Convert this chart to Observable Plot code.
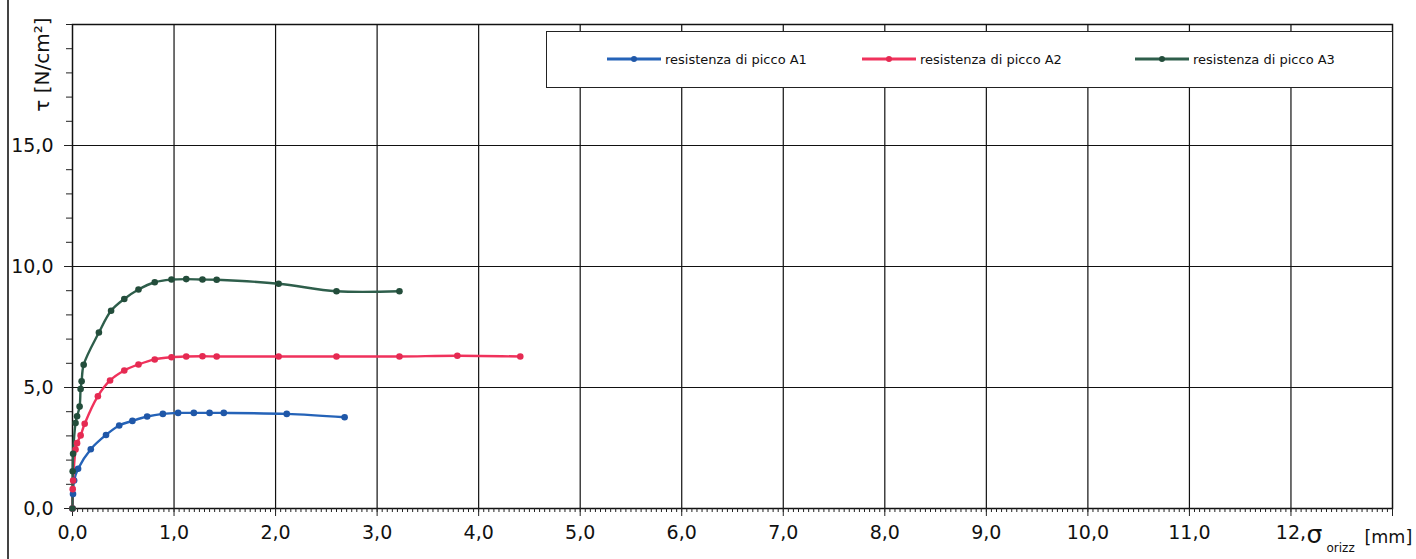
<!DOCTYPE html>
<html><head><meta charset="utf-8">
<script src="https://cdn.jsdelivr.net/npm/d3@7"></script>
<script src="https://cdn.jsdelivr.net/npm/@observablehq/plot@0.6"></script>
<style>
body{margin:0;background:#fff;}
#wrap{position:relative;width:1416px;height:559px;overflow:hidden;font-family:"DejaVu Sans",sans-serif;background:#fff;}
#edge{position:absolute;left:7px;top:0;width:2px;height:559px;background:#444;}
#legend{position:absolute;left:546px;top:31px;width:847px;height:57px;border:1.5px solid #222;box-sizing:border-box;background:#fff;}
.item{position:absolute;top:0;height:54px;display:flex;align-items:center;font-size:13px;color:#111;white-space:nowrap;}
.item svg{margin-right:4px;}
</style>
</head><body>
<div id="wrap"><div id="edge"></div><div id="chart"></div><div id="legend"></div></div>
<script>
const seriesNames = ["resistenza di picco A1","resistenza di picco A2","resistenza di picco A3"];
const seriesColors = ["#2563b8","#f0325c","#2e5e4b"];
const dotColors = ["#1f57a8","#e52a52","#234d3b"];

const a1X = [0,0.005,0.016,0.055,0.18,0.33,0.46,0.59,0.735,0.89,1.04,1.195,1.35,1.49,2.11,2.68];
const a1Y = [0,0.6,1.16,1.64,2.45,3.04,3.43,3.62,3.80,3.91,3.95,3.95,3.95,3.95,3.91,3.77];

const a2X = [0,0.002,0.006,0.03,0.045,0.08,0.12,0.25,0.37,0.51,0.65,0.81,0.975,1.12,1.28,1.42,2.03,2.6,3.22,3.79,4.41];
const a2Y = [0,0.8,1.16,2.44,2.70,3.02,3.50,4.64,5.29,5.70,5.95,6.16,6.25,6.28,6.29,6.28,6.28,6.28,6.28,6.31,6.28];

const a3X = [0,0.002,0.006,0.03,0.045,0.07,0.08,0.09,0.11,0.26,0.38,0.51,0.65,0.81,0.975,1.12,1.28,1.42,2.03,2.6,3.22];
const a3Y = [0,1.54,2.26,3.53,3.81,4.21,4.94,5.26,5.94,7.27,8.17,8.66,9.05,9.35,9.46,9.48,9.46,9.45,9.29,8.98,8.98];

const xMajorTicks = [0,1,2,3,4,5,6,7,8,9,10,11,12,13];
const xTickLabels = ["0,0","1,0","2,0","3,0","4,0","5,0","6,0","7,0","8,0","9,0","10,0","11,0","12,",""];
const yMajorTicks = [0,5,10,15];
const yTickLabels = ["0,0","5,0","10,0","15,0"];
const yMinorTicks = [0,1,2,3,4,5,6,7,8,9,10,11,12,13,14,15,16,17,18,19,20];
const xMinorTicks = d3.range(0, 261).map(i => i / 20);

const yTitle = "τ [N/cm²]";
const xTitleMain = "σ";
const xTitleSub = "orizz";
const xTitleUnit = "[mm]";

const rows = [];
[[a1X,a1Y],[a2X,a2Y],[a3X,a3Y]].forEach(([xs,ys],k) => {
  xs.forEach((x,i) => rows.push({series: seriesNames[k], x, y: ys[i]}));
});

const chart = Plot.plot({
  width: 1416, height: 559,
  marginLeft: 72, marginRight: 24, marginTop: 24, marginBottom: 51,
  x: {domain: [0, 13]},
  y: {domain: [0, 20]},
  color: {domain: seriesNames, range: seriesColors},
  style: {fontFamily: "DejaVu Sans, sans-serif", fontSize: "19px", color: "#111", background: "transparent"},
  marks: [
    Plot.gridX(xMajorTicks.slice(1, -1), {stroke: "#111", strokeOpacity: 1, strokeWidth: 1.2}),
    Plot.gridY(yMajorTicks.slice(1), {stroke: "#111", strokeOpacity: 1, strokeWidth: 1.2}),
    Plot.frame({stroke: "#111", strokeWidth: 1.5}),
    Plot.axisX({ticks: xMinorTicks, tickSize: 4, tickFormat: () => "", label: null, stroke: "#222"}),
    Plot.axisX({ticks: xMajorTicks, tickSize: 8, tickPadding: 9, tickFormat: d => xTickLabels[Math.round(d)], label: null, stroke: "#222"}),
    Plot.axisY({ticks: yMinorTicks, tickSize: 6, tickFormat: () => "", label: null, stroke: "#222"}),
    Plot.axisY({ticks: yMajorTicks, tickSize: 8, tickPadding: 11, tickFormat: d => yTickLabels[yMajorTicks.indexOf(d)], label: null, stroke: "#222"}),
    Plot.line(rows, {x: "x", y: "y", z: "series", stroke: "series", strokeWidth: 2.4, curve: "catmull-rom"}),
    Plot.dot(rows, {x: "x", y: "y", fill: d => dotColors[seriesNames.indexOf(d.series)], r: 3.3}),
    Plot.text([yTitle], {frameAnchor: "top-left", dx: -38, dy: -7, rotate: -90, textAnchor: "end", fontSize: 20, fill: "#111"}),
    Plot.text([xTitleMain], {frameAnchor: "bottom-right", dx: -86, dy: 34, textAnchor: "start", fontSize: 25, fill: "#111"}),
    Plot.text([xTitleSub], {frameAnchor: "bottom-right", dx: -66, dy: 43, textAnchor: "start", fontSize: 12, fill: "#111"}),
    Plot.text([xTitleUnit], {frameAnchor: "bottom-right", dx: -28, dy: 34, textAnchor: "start", fontSize: 17.5, fill: "#111"})
  ]
});
document.getElementById("chart").appendChild(chart);

const legend = document.getElementById("legend");
const legendLeft = [60, 315, 588];
seriesNames.forEach((name, k) => {
  const it = document.createElement("div");
  it.className = "item";
  it.style.left = legendLeft[k] + "px";
  it.innerHTML = `<svg width="54" height="8"><line x1="0" y1="4" x2="54" y2="4" stroke="${seriesColors[k]}" stroke-width="3"/><circle cx="27" cy="4" r="3" fill="${dotColors[k]}"/></svg><span>${name}</span>`;
  legend.appendChild(it);
});
</script>
</body></html>
